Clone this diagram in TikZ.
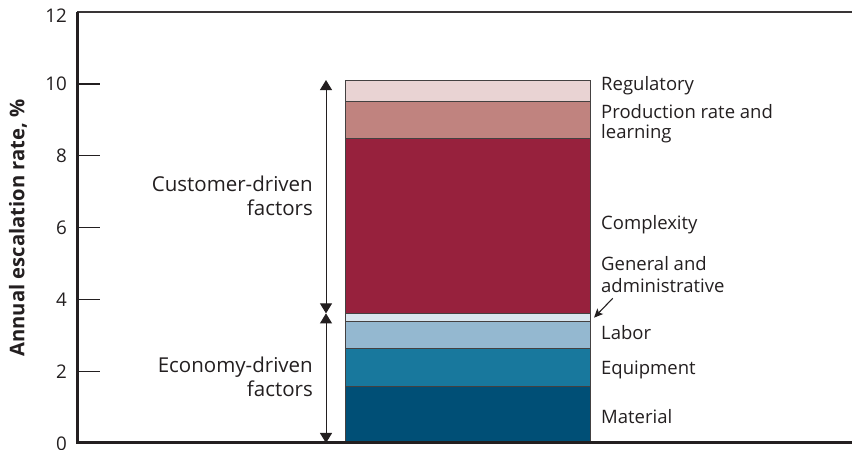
\documentclass[tikz,border=0pt]{standalone}
\usepackage{fontspec}
\setmainfont{Open Sans}
\usetikzlibrary{arrows.meta}
\definecolor{txt}{HTML}{231F20}
\definecolor{cReg}{HTML}{E9D3D3}
\definecolor{cProd}{HTML}{C0837F}
\definecolor{cComp}{HTML}{97213D}
\definecolor{cGA}{HTML}{D9E5EE}
\definecolor{cLab}{HTML}{94B8D0}
\definecolor{cEq}{HTML}{18789D}
\definecolor{cMat}{HTML}{004F76}
\tikzset{
  seg/.style={draw=txt!85, line width=1bp},
  axisline/.style={draw=txt, line width=3bp},
  thinline/.style={draw=txt!90, line width=1.3bp},
  tickline/.style={draw=txt, line width=1.2bp},
  span/.style={draw=txt, line width=1bp, {Triangle[length=10bp,width=12bp]}-{Triangle[length=10bp,width=12bp]}},
  pointer/.style={draw=txt, line width=1.1bp, -{Stealth[length=9bp,width=8bp,inset=2bp]}},
  lab/.style={anchor=base west, inner sep=0pt, text=txt, font=\fontsize{18.5bp}{22bp}\selectfont},
  llab/.style={anchor=base east, inner sep=0pt, text=txt, font=\fontsize{20.5bp}{24bp}\selectfont},
  ticklab/.style={anchor=east, inner sep=0pt, text=txt, font=\fontsize{18.8bp}{22bp}\selectfont},
}
\begin{document}
\begin{tikzpicture}[x=1bp,y=1bp]
\useasboundingbox (0,0) rectangle (852,450);
\begin{scope}[shift={(0,7)}, y=35.9bp]
  % bar segments
  \filldraw[seg, fill=cMat]  (345,0)    rectangle (590,1.57);
  \filldraw[seg, fill=cEq]   (345,1.57) rectangle (590,2.64);
  \filldraw[seg, fill=cLab]  (345,2.64) rectangle (590,3.38);
  \filldraw[seg, fill=cGA]   (345,3.38) rectangle (590,3.61);
  \filldraw[seg, fill=cComp] (345,3.61) rectangle (590,8.49);
  \filldraw[seg, fill=cProd] (345,8.49) rectangle (590,9.51);
  \filldraw[seg, fill=cReg]  (345,9.51) rectangle (590,10.11);
  % axes
  \draw[thinline] (77,12.006) -- (852,12.006);
  \draw[axisline] (77,12.006) -- (77,0) -- (852,0);
  \foreach \v in {2,4,6,8,10} \draw[tickline] (77,\v) -- (100,\v);
  % span arrows
  \coordinate (top) at (326,10.11);
  \coordinate (mid) at (326,3.61);
  \coordinate (bot) at (326,0);
  \draw[span] (top) -- (mid);
  \draw[span] (mid) -- (bot);
  % G&A pointer
  \coordinate (gaFrom) at (612.7,4.03);
  \coordinate (gaTo) at (594,3.49);
\end{scope}
\draw[pointer] (gaFrom) -- (gaTo);
% tick labels
\node[ticklab] (t12) at (67,434.3) {12};
\node[ticklab] (t10) at (67,366.5) {10};
\node[ticklab] (t8) at (67,294.5) {8};
\node[ticklab] (t6) at (67,222.3) {6};
\node[ticklab] (t4) at (67,150.7) {4};
\node[ticklab] (t2) at (67,78.7) {2};
\node[ticklab] (t0) at (67,6) {0};
% axis title
\node[rotate=90, text=txt, inner sep=0pt, font=\fontsize{20.2bp}{24bp}\selectfont\bfseries] (ytitle) at (18,222) {Annual escalation rate, \%};
% right labels
\node[lab] (lReg) at (601,359.3) {Regulatory};
\node[lab] (lProd1) at (601,331.7) {Production rate and};
\node[lab] (lProd2) at (601,311) {learning};
\node[lab] (lComp) at (601,220) {Complexity};
\node[lab] (lGA1) at (601,179.3) {General and};
\node[lab] (lGA2) at (601,157.3) {administrative};
\node[lab] (lLab) at (601,110) {Labor};
\node[lab] (lEq) at (601,75) {Equipment};
\node[lab] (lMat) at (601,26) {Material};
% left labels
\node[llab] (lCust1) at (313,258.3) {Customer-driven};
\node[llab] (lCust2) at (313,234) {factors};
\node[llab] (lEcon1) at (313,77.7) {Economy-driven};
\node[llab] (lEcon2) at (313,53.3) {factors};
\end{tikzpicture}
\end{document}
